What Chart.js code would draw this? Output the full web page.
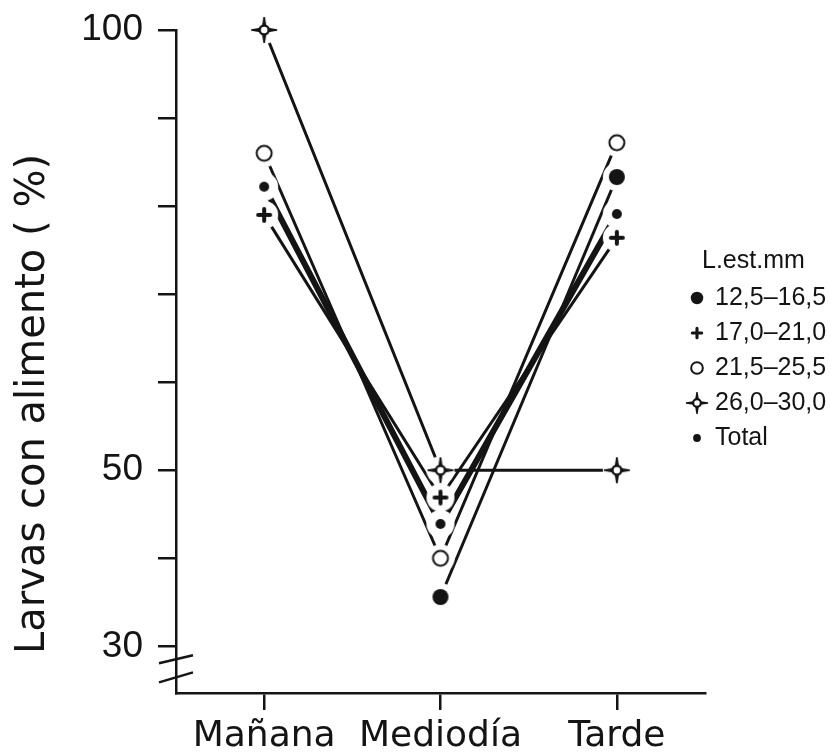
<!DOCTYPE html>
<html>
<head>
<meta charset="utf-8">
<script src="https://cdn.jsdelivr.net/npm/chart.js@4.4.1/dist/chart.umd.min.js"></script>
<style>
html, body { margin: 0; padding: 0; background: #fff; }
#wrap { width: 831px; height: 755px; }
</style>
</head>
<body>
<div id="wrap"><canvas id="myChart"></canvas></div>
<script>
const categories = ['Mañana', 'Mediodía', 'Tarde'];
const seriesLabels = ['12,5–16,5', '17,0–21,0', '21,5–25,5', '26,0–30,0', 'Total'];
const size12 = [null, 35.6, 83.3];
const size17 = [79.0, 46.9, 76.4];
const size21 = [86.0, 40.0, 87.2];
const size26 = [100, 50, 50];
const total = [82.2, 43.9, 79.1];
const yTicks = [30, 40, 50, 60, 70, 80, 90, 100];
const yLabelled = [30, 50, 100];

const ink = '#141414';

// little canvases used as point styles; halo = white disc so lines stop short of the marker
function makeMarker(kind, s, halo) {
    const r = halo ? 14 : 0;
    const half = Math.ceil(Math.max(r, 14 * s)) + 2;
    const c = document.createElement('canvas');
    c.width = c.height = half * 2;
    const ctx = c.getContext('2d');
    ctx.translate(half, half);
    if (halo) {
        ctx.fillStyle = '#fff';
        ctx.beginPath(); ctx.arc(0, 0, r, 0, Math.PI * 2); ctx.fill();
    }
    ctx.fillStyle = ink;
    ctx.strokeStyle = ink;
    ctx.lineCap = 'round';
    if (kind === 'big') {
        ctx.beginPath(); ctx.arc(0, 0, 8 * s, 0, Math.PI * 2); ctx.fill();
    } else if (kind === 'plus') {
        ctx.lineWidth = 4 * s;
        ctx.beginPath();
        ctx.moveTo(-6 * s, 0); ctx.lineTo(6 * s, 0);
        ctx.moveTo(0, -6 * s); ctx.lineTo(0, 6 * s);
        ctx.stroke();
    } else if (kind === 'ring') {
        ctx.lineWidth = 2;
        ctx.fillStyle = '#fff';
        ctx.beginPath(); ctx.arc(0, 0, 7.5 * s, 0, Math.PI * 2); ctx.fill(); ctx.stroke();
    } else if (kind === 'star') {
        // tapered arms
        [0, 1, 2, 3].forEach(q => {
            ctx.save();
            ctx.rotate(q * Math.PI / 2);
            ctx.beginPath();
            ctx.moveTo(4 * s, -2.2 * s);
            ctx.lineTo(13 * s, -0.8 * s);
            ctx.lineTo(13 * s, 0.8 * s);
            ctx.lineTo(4 * s, 2.2 * s);
            ctx.closePath();
            ctx.fill();
            ctx.restore();
        });
        ctx.lineWidth = 2.5 * s;
        ctx.fillStyle = '#fff';
        ctx.beginPath(); ctx.arc(0, 0, 4.5 * s, 0, Math.PI * 2); ctx.fill(); ctx.stroke();
    } else if (kind === 'dot') {
        ctx.beginPath(); ctx.arc(0, 0, 5 * s, 0, Math.PI * 2); ctx.fill();
    }
    return c;
}

const kinds = ['big', 'plus', 'ring', 'star', 'dot'];
const seriesValues = [size12, size17, size21, size26, total];
const lineWidths = [3, 3, 3, 3, 6];

// lines first (order 2, drawn underneath), then markers with halos on top (order 1)
const lineSets = seriesValues.map((vals, i) => ({
    label: seriesLabels[i],
    data: vals,
    borderColor: ink,
    borderWidth: lineWidths[i],
    pointRadius: 0,
    tension: 0,
    spanGaps: false,
    order: 2
}));
const markerSets = seriesValues.map((vals, i) => ({
    label: seriesLabels[i] + ' pts',
    data: vals,
    showLine: false,
    pointStyle: makeMarker(kinds[i], 1, true),
    pointRadius: 8,
    clip: false,
    order: 1
}));

const legendMarkers = kinds.map(k => makeMarker(k, k === 'star' ? 0.85 : 0.78, false));

const extrasPlugin = {
    id: 'extras',
    afterDraw(chart) {
        const ctx = chart.ctx;
        const area = chart.chartArea;
        const y30 = chart.scales.y.getPixelForValue(30);
        ctx.save();
        // axis break
        ctx.strokeStyle = ink;
        ctx.lineWidth = 2.5;
        ctx.beginPath();
        ctx.moveTo(area.left - 17, y30 + 17); ctx.lineTo(area.left + 17, y30 + 9);
        ctx.moveTo(area.left - 17, y30 + 36); ctx.lineTo(area.left + 17, y30 + 26);
        ctx.stroke();

        // y title
        ctx.fillStyle = ink;
        ctx.font = '40px "DejaVu Sans", sans-serif';
        ctx.textAlign = 'center';
        ctx.textBaseline = 'middle';
        ctx.translate(34, 404);
        ctx.rotate(-Math.PI / 2);
        ctx.fillText('Larvas con alimento ( %)', 0, 0);
        ctx.restore();

        // legend
        ctx.save();
        ctx.fillStyle = ink;
        ctx.textBaseline = 'middle';
        ctx.font = '25px "Liberation Sans", Arial, sans-serif';
        ctx.fillText('L.est.mm', 702, 261);
        lineSets.forEach((ds, i) => {
            const y = 298 + i * 35;
            const m = legendMarkers[i];
            ctx.drawImage(m, 697 - m.width / 2, y - m.height / 2);
            ctx.fillText(ds.label, 715, y);
        });
        ctx.restore();
    }
};

new Chart(document.getElementById('myChart'), {
    type: 'line',
    data: { labels: categories, datasets: lineSets.concat(markerSets) },
    options: {
        responsive: true,
        maintainAspectRatio: false,
        animation: false,
        layout: { padding: { top: 30, right: 126, bottom: 0, left: 0 } },
        plugins: {
            legend: { display: false },
            tooltip: { enabled: false }
        },
        scales: {
            x: {
                offset: true,
                grid: { offset: false, drawOnChartArea: false, drawTicks: true, tickLength: 17, color: ink, lineWidth: 2.5 },
                border: { display: true, color: ink, width: 2.5 },
                ticks: { color: ink, padding: 5, font: { family: '"DejaVu Sans", sans-serif', size: 36 } },
                afterFit(scale) { scale.height = 62; scale.paddingLeft = 0; scale.paddingRight = 0; }
            },
            y: {
                min: 24.7,
                max: 100,
                afterBuildTicks(scale) { scale.ticks = yTicks.map(v => ({ value: v })); },
                grid: { drawOnChartArea: false, drawTicks: true, tickLength: 18, color: ink, lineWidth: 2.5 },
                border: { display: true, color: ink, width: 2.5 },
                ticks: {
                    color: ink,
                    padding: 15,
                    font: { family: '"Liberation Sans", Arial, sans-serif', size: 37 },
                    callback: v => yLabelled.includes(v) ? String(v) : ''
                },
                afterFit(scale) { scale.width = 176; scale.paddingTop = 0; scale.paddingBottom = 0; }
            }
        }
    },
    plugins: [extrasPlugin]
});
</script>
</body>
</html>
